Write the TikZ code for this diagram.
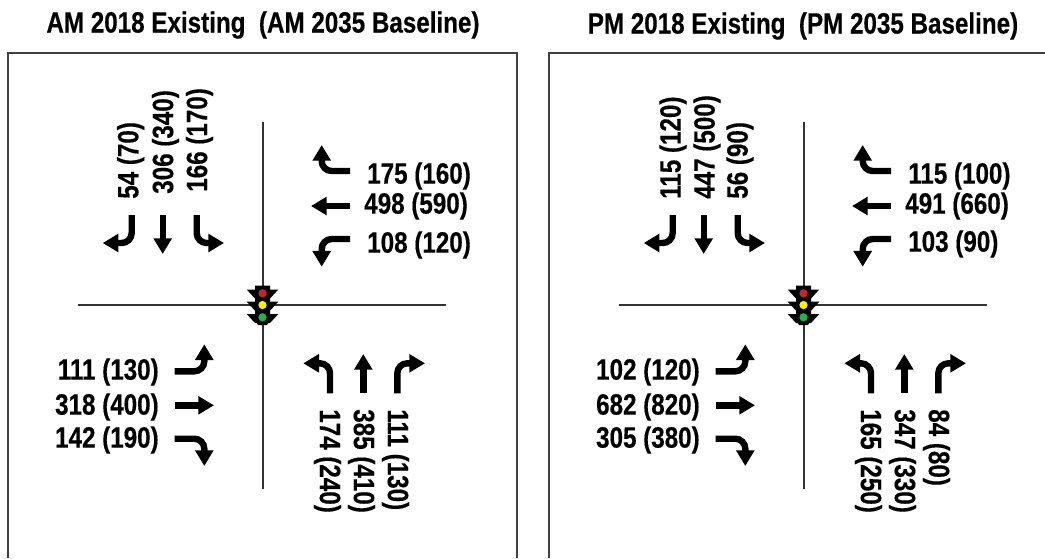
\documentclass[tikz,border=0pt]{standalone}
\usepackage{fontspec}
\usetikzlibrary{arrows.meta}
\newfontfamily\countfont[FakeStretch=0.825,FakeBold=0.4]{Liberation Sans Bold}
\definecolor{frameGray}  {HTML}{404040}
\definecolor{roadGray}   {HTML}{333333}
\definecolor{lampRed}    {HTML}{C1272D}
\definecolor{lampYellow} {HTML}{FFEE00}
\definecolor{lampGreen}  {HTML}{22B14C}
\tikzset{
  frame/.style={draw=frameGray,line width=1.1pt},
  road/.style={draw=roadGray,line width=0.8pt},
  move/.style={-{Triangle[length=11.8pt,width=13.2pt]},draw=black,line width=4.8pt,rounded corners=7.5pt},
  count/.style={font=\countfont\fontsize{22}{22}\selectfont,inner sep=0pt},
  title/.style={font=\countfont\fontsize{22}{22}\selectfont,inner sep=0pt,anchor=center},
  lamp/.style={circle,draw=none,minimum size=6.2pt,inner sep=0pt},
}
\begin{document}
\begin{tikzpicture}[x=0.75pt,y=-0.75pt]
\useasboundingbox (0,0) rectangle (1045,558);

\node[title] (amtitle) at (263,25) {AM 2018 Existing\ \ (AM 2035 Baseline)};
\node[title] (pmtitle) at (803,26) {PM 2018 Existing\ \ (PM 2035 Baseline)};

\draw[frame] (8,558) -- (8,53) -- (517,53) -- (517,558);
\draw[frame] (549,558) -- (549,53) -- (1045,53);

\foreach \pfx/\dx in {am/0,pm/541}{
\begin{scope}[shift={(\dx,0)},name prefix=\pfx-]
  \coordinate (north) at (263,122);
  \coordinate (south) at (263,489);
  \coordinate (west) at (78,305);
  \coordinate (east) at (446,305);
  \draw[road] (north) -- (south);
  \draw[road] (west) -- (east);

  \foreach \mv/\xa/\ya/\xb/\yb in {sbt/162.7/215/162.7/254,wbt/350/206/311/206,ebt/174.7/405.3/214/405.3,nbt/363.3/393.3/363.3/354}{
    \coordinate (\mv-a) at (\xa,\ya);
    \coordinate (\mv-b) at (\xb,\yb);
    \draw[move] (\mv-a) -- (\mv-b);
  }
  \foreach \mv/\xa/\ya/\xb/\yb in {sbl/131.7/215/102.7/243,sbr/196.7/215/224/243,nbl/330/393.3/303.3/363.3,nbr/397.3/393.3/425/363.3}{
    \coordinate (\mv-a) at (\xa,\ya);
    \coordinate (\mv-b) at (\xb,\yb);
    \draw[move] (\mv-a) |- (\mv-b);
  }
  \foreach \mv/\xa/\ya/\xb/\yb in {wbr/350/171/321.7/145,wbl/350/239/321.7/266.7,ebl/174.7/371.3/204.3/344.3,ebr/174.7/438.7/204.3/466}{
    \coordinate (\mv-a) at (\xa,\ya);
    \coordinate (\mv-b) at (\xb,\yb);
    \draw[move] (\mv-a) -| (\mv-b);
  }

  \fill[black] (255,285.7) -- (270,285.7) -- (270,320) -- (267,325) -- (258,325) -- (255,320) -- cycle;
  \foreach \wy in {289.5,301.7,314}{
    \fill[black] (246.7,\wy) -- (278.3,\wy) -- (270,\wy+9) -- (255,\wy+9) -- cycle;
  }
  \node[lamp,fill=lampRed] (red) at (262.5,293.3) {};
  \node[lamp,fill=lampYellow] (yellow) at (262.5,305) {};
  \node[lamp,fill=lampGreen] (green) at (262.5,317.3) {};
\end{scope}
}

\node[count,rotate=90,anchor=west] (amsbl) at (130.7,199) {54 (70)};
\node[count,rotate=90,anchor=west] (amsbt) at (165.5,194) {306 (340)};
\node[count,rotate=90,anchor=west] (amsbr) at (199.5,192) {166 (170)};
\node[count,anchor=west] (amwbr) at (367,176) {175 (160)};
\node[count,anchor=west] (amwbt) at (364,206) {498 (590)};
\node[count,anchor=west] (amwbl) at (367,245) {108 (120)};
\node[count,anchor=east] (amebl) at (159,372) {111 (130)};
\node[count,anchor=east] (amebt) at (159,407) {318 (400)};
\node[count,anchor=east] (amebr) at (159,440) {142 (190)};
\node[count,rotate=-90,anchor=west] (amnbl) at (327.5,409) {174 (240)};
\node[count,rotate=-90,anchor=west] (amnbt) at (361.5,409) {385 (410)};
\node[count,rotate=-90,anchor=west] (amnbr) at (395.5,409) {111 (130)};

\node[count,rotate=90,anchor=west] (pmsbl) at (673,199) {115 (120)};
\node[count,rotate=90,anchor=west] (pmsbt) at (707,199) {447 (500)};
\node[count,rotate=90,anchor=west] (pmsbr) at (740,199) {56 (90)};
\node[count,anchor=west] (pmwbr) at (908,176) {115 (100)};
\node[count,anchor=west] (pmwbt) at (905,206) {491 (660)};
\node[count,anchor=west] (pmwbl) at (908,244) {103 (90)};
\node[count,anchor=east] (pmebl) at (700,372) {102 (120)};
\node[count,anchor=east] (pmebt) at (700,407) {682 (820)};
\node[count,anchor=east] (pmebr) at (700,440) {305 (380)};
\node[count,rotate=-90,anchor=west] (pmnbl) at (868.5,409) {165 (250)};
\node[count,rotate=-90,anchor=west] (pmnbt) at (902.5,409) {347 (330)};
\node[count,rotate=-90,anchor=west] (pmnbr) at (936.5,409) {84 (80)};

\end{tikzpicture}
\end{document}
